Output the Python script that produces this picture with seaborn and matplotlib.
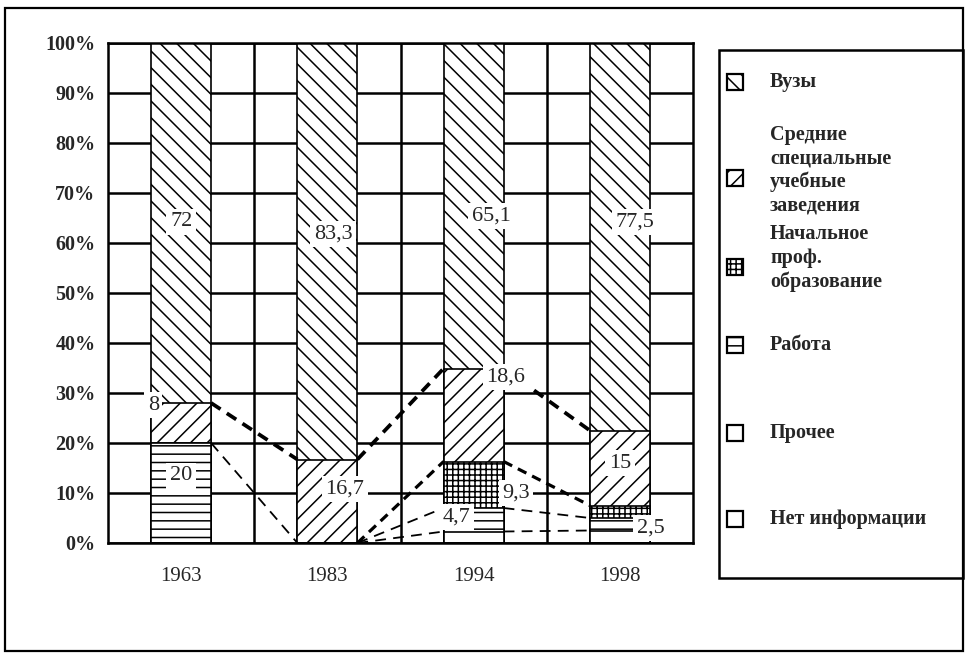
import numpy as np
import pandas as pd
import matplotlib
matplotlib.use("Agg")
import matplotlib.pyplot as plt
import seaborn as sns
from matplotlib.patches import Rectangle

# ---------------- data ----------------
years = ["1963", "1983", "1994", "1998"]
# series listed bottom -> top of the stack
net_info = [0, 0, 0, 0]
prochee = [0, 0, 2.3, 2.5]
rabota = [20, 0, 4.7, 2.5]
nachalnoe = [0, 0, 9.3, 2.5]
ssuz = [8, 16.7, 18.6, 15]
vuzy = [72, 83.3, 65.1, 77.5]

series_names = ["Нет информации", "Прочее", "Работа",
                "Начальное\nпроф.\nобразование",
                "Средние\nспециальные\nучебные\nзаведения", "Вузы"]
y_ticks = [0, 10, 20, 30, 40, 50, 60, 70, 80, 90, 100]
y_ticklabels = ["0%", "10%", "20%", "30%", "40%", "50%", "60%", "70%", "80%", "90%", "100%"]

# ---------------- style ----------------
sns.set_style("white")
plt.rcParams["font.family"] = ["Liberation Serif", "DejaVu Serif"]
plt.rcParams["hatch.linewidth"] = 1.1
plt.rcParams["hatch.color"] = "black"

values = [net_info, prochee, rabota, nachalnoe, ssuz, vuzy]
hatches = [None, None, "--", "+++", "//", "\\\\"]
cum = np.cumsum(np.array(values, dtype=float), axis=0)

W, H = 967, 654
fig = plt.figure(figsize=(W / 100, H / 100), dpi=100)
ax = fig.add_axes([108 / W, 1 - 543 / H, (693 - 108) / W, (543 - 43) / H])

bar_w = 0.41
# draw cumulative bars from the top series down so lower segments overlay
for k in reversed(range(len(values))):
    n0 = len(ax.patches)
    df = pd.DataFrame({"year": years, "cum": cum[k]})
    sns.barplot(data=df, x="year", y="cum", color="white", saturation=1,
                edgecolor="black", linewidth=1.2, width=bar_w,
                errorbar=None, ax=ax, zorder=2)
    for p in ax.patches[n0:]:
        if hatches[k]:
            p.set_hatch(hatches[k])

# series lines between adjacent bars
line_styles = {1: (1.3, (6, 4)), 2: (1.3, (6, 4)), 3: (2.3, (3, 2)), 4: (2.7, (3, 2))}
for k, (lw, dash) in line_styles.items():
    for i in range(len(years) - 1):
        if values[k][i] or values[k][i + 1]:
            ax.plot([i + bar_w / 2, i + 1 - bar_w / 2], [cum[k][i], cum[k][i + 1]],
                    color="black", lw=lw, dashes=dash, zorder=3)

# value labels: (year index, series index, dx, dy)
label_spec = [(0, 5, 0.0, 0.2), (0, 4, -0.19, 3.6), (0, 2, 0.0, 3.4),
              (1, 5, 0.04, 3.5), (1, 4, 0.12, 2.5),
              (2, 5, 0.12, -2.0), (2, 4, 0.22, 7.6), (2, 3, 0.29, -1.6), (2, 2, -0.12, 0.5),
              (3, 5, 0.10, 3.0), (3, 4, 0.0, 1.0), (3, 2, 0.21, -0.75)]
for i, k, dx, dy in label_spec:
    v = values[k][i]
    bottom = cum[k][i] - v
    txt = f"{v:g}".replace(".", ",")
    ax.text(i + dx, bottom + v / 2 + dy, txt, ha="center", va="center",
            fontsize=16, zorder=5,
            bbox=dict(facecolor="white", edgecolor="none", pad=2.5))

# axes, grid, ticks
ax.set_xlim(-0.5, len(years) - 0.5)
ax.set_ylim(0, 100)
ax.set_yticks(y_ticks)
ax.set_yticklabels(y_ticklabels, fontsize=14.5, fontweight="bold")
ax.set_xticks(range(len(years)))
ax.set_xticklabels(years, fontsize=15)
ax.set_xticks(np.arange(-0.5, len(years), 1.0), minor=True)
ax.tick_params(axis="x", which="major", length=0, pad=17)
ax.tick_params(axis="x", which="minor", length=6, width=1.8, color="black", direction="out")
ax.tick_params(axis="y", which="major", length=4, width=1.8, color="black", direction="out", pad=5)
ax.set_xlabel("")
ax.set_ylabel("")
ax.set_axisbelow(True)
ax.grid(False)
for y in y_ticks:
    ax.axhline(y, color="black", lw=1.8, zorder=1)
for x in np.arange(0.5, len(years) - 1, 1.0):
    ax.axvline(x, color="black", lw=1.8, zorder=1)
for s in ax.spines.values():
    s.set_visible(True)
    s.set_color("black")
    s.set_linewidth(1.8)

# ---------------- frame and legend (pixel overlay) ----------------
ov = fig.add_axes([0, 0, 1, 1], zorder=-1)
ov.set_xlim(0, W)
ov.set_ylim(H, 0)
ov.axis("off")
ov.add_patch(Rectangle((5, 8), 958, 643, fill=False, edgecolor="black", lw=1.6))
ov.add_patch(Rectangle((719, 50), 244, 528, fill=False, edgecolor="black", lw=1.8))

legend_order = [5, 4, 3, 2, 1, 0]
icon_y = [82, 178, 267, 345, 433, 519]
text_y = [82, 170, 258, 345, 433, 519]
for k, iy, ty in zip(legend_order, icon_y, text_y):
    ov.add_patch(Rectangle((727, iy - 8), 16, 16, facecolor="white", edgecolor="black",
                           lw=1.6, hatch=hatches[k]))
    ov.text(770, ty, series_names[k], ha="left", va="center", fontsize=14.5,
            fontweight="bold", linespacing=1.22)

fig.savefig("out.png", dpi=100)
